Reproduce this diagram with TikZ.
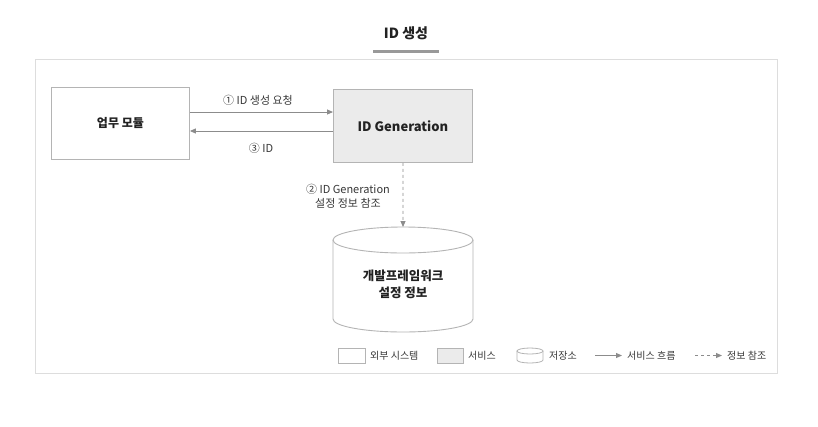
\documentclass[tikz,border=0pt]{standalone}
\usepackage{fontspec}
\setmainfont{Noto Sans CJK KR}
\usetikzlibrary{arrows.meta}
\definecolor{bordergray}{HTML}{B4B4B4}
\definecolor{framegray}{HTML}{DDDDDD}
\definecolor{fillgray}{HTML}{EBEBEB}
\definecolor{arrowgray}{HTML}{8C8C8C}
\definecolor{textdark}{HTML}{222222}
\tikzset{
  sysbox/.style={draw=bordergray, line width=0.9pt, fill=white, text=textdark, font=\fontsize{12}{14}\selectfont\bfseries},
  svcbox/.style={draw=bordergray, line width=0.9pt, fill=fillgray, text=textdark, font=\fontsize{13}{15}\selectfont\bfseries},
  flow/.style={draw=arrowgray, line width=0.9pt, -{Triangle[length=6pt,width=5pt]}},
  refline/.style={draw=arrowgray, line width=0.9pt, dashed, dash pattern=on 3pt off 3pt, -{Triangle[length=6pt,width=5pt]}},
  lbl/.style={text=textdark!90, font=\fontsize{11}{14}\selectfont, inner sep=0pt},
  leg/.style={text=textdark!90, font=\fontsize{10}{12}\selectfont, inner sep=0pt, anchor=west},
}
\begin{document}
\begin{tikzpicture}[x=1pt,y=-1pt]
\useasboundingbox[fill=white] (0,0) rectangle (818,426);
% title
\node[font=\fontsize{14}{16}\selectfont\bfseries, text=textdark, inner sep=0pt] (title) at (406,33) {ID 생성};
\draw[line width=3pt, color=black!40] (373,51) -- (439,51);
% frame
\draw[draw=framegray, line width=1pt] (35,59) rectangle (777,373);
% boxes
\node[sysbox, minimum width=138, minimum height=72, anchor=north west] (biz) at (51,87) {업무 모듈};
\node[svcbox, minimum width=139, minimum height=73, anchor=north west] (idgen) at (333,89) {ID Generation};
% cylinder
\node[minimum width=140, minimum height=105, inner sep=0pt] (cyl) at (403,279) {};
\draw[draw=bordergray, line width=0.9pt, fill=white] (333,240) -- (333,319) arc[start angle=180, end angle=0, x radius=70, y radius=13] -- (473,240);
\draw[draw=bordergray, line width=0.9pt] (403,240) ellipse [x radius=70, y radius=13];
\node[text=textdark, font=\fontsize{12.5}{17}\selectfont\bfseries, align=center] (cyltext) at (403,284) {개발프레임워크\\설정 정보};
\coordinate (cyltop) at (403,227);
% connectors
\coordinate (a1s) at (biz.east |- 0,112);
\coordinate (a1e) at (idgen.west |- 0,112);
\coordinate (a3s) at (idgen.west |- 0,131);
\coordinate (a3e) at (biz.east |- 0,131);
\draw[flow] (a1s) -- (a1e);
\draw[flow] (a3s) -- (a3e);
\draw[refline] (idgen.south) -- (cyltop);
% labels
\node[lbl] (l1) at (258,100) {① ID 생성 요청};
\node[lbl] (l3) at (261,148) {③ ID};
\node[lbl, align=center] (l2) at (348,196) {② ID Generation\\설정 정보 참조};
% legend
\node[draw=bordergray, line width=0.8pt, fill=white, minimum width=27, minimum height=15, inner sep=0pt, anchor=west] (lg1) at (338,355.5) {};
\node[leg] (lt1) at (370,355.5) {외부 시스템};
\node[draw=bordergray, line width=0.8pt, fill=fillgray, minimum width=26, minimum height=15, inner sep=0pt, anchor=west] (lg2) at (437,355.5) {};
\node[leg] (lt2) at (468,355.5) {서비스};
\node[minimum width=26, minimum height=15, inner sep=0pt, anchor=west] (lg3) at (517,355.5) {};
\draw[draw=bordergray, line width=0.8pt] (517,351) -- (517,360) arc[start angle=180, end angle=0, x radius=13, y radius=3] -- (543,351);
\draw[draw=bordergray, line width=0.8pt] (530,351) ellipse [x radius=13, y radius=3];
\node[leg] (lt3) at (549,355.5) {저장소};
\coordinate (lg4s) at (595,355.5);
\coordinate (lg4e) at (622,355.5);
\draw[flow] (lg4s) -- (lg4e);
\node[leg] (lt4) at (627,355.5) {서비스 흐름};
\coordinate (lg5s) at (695,355.5);
\coordinate (lg5e) at (722,355.5);
\draw[refline] (lg5s) -- (lg5e);
\node[leg] (lt5) at (727,355.5) {정보 참조};
\end{tikzpicture}
\end{document}
